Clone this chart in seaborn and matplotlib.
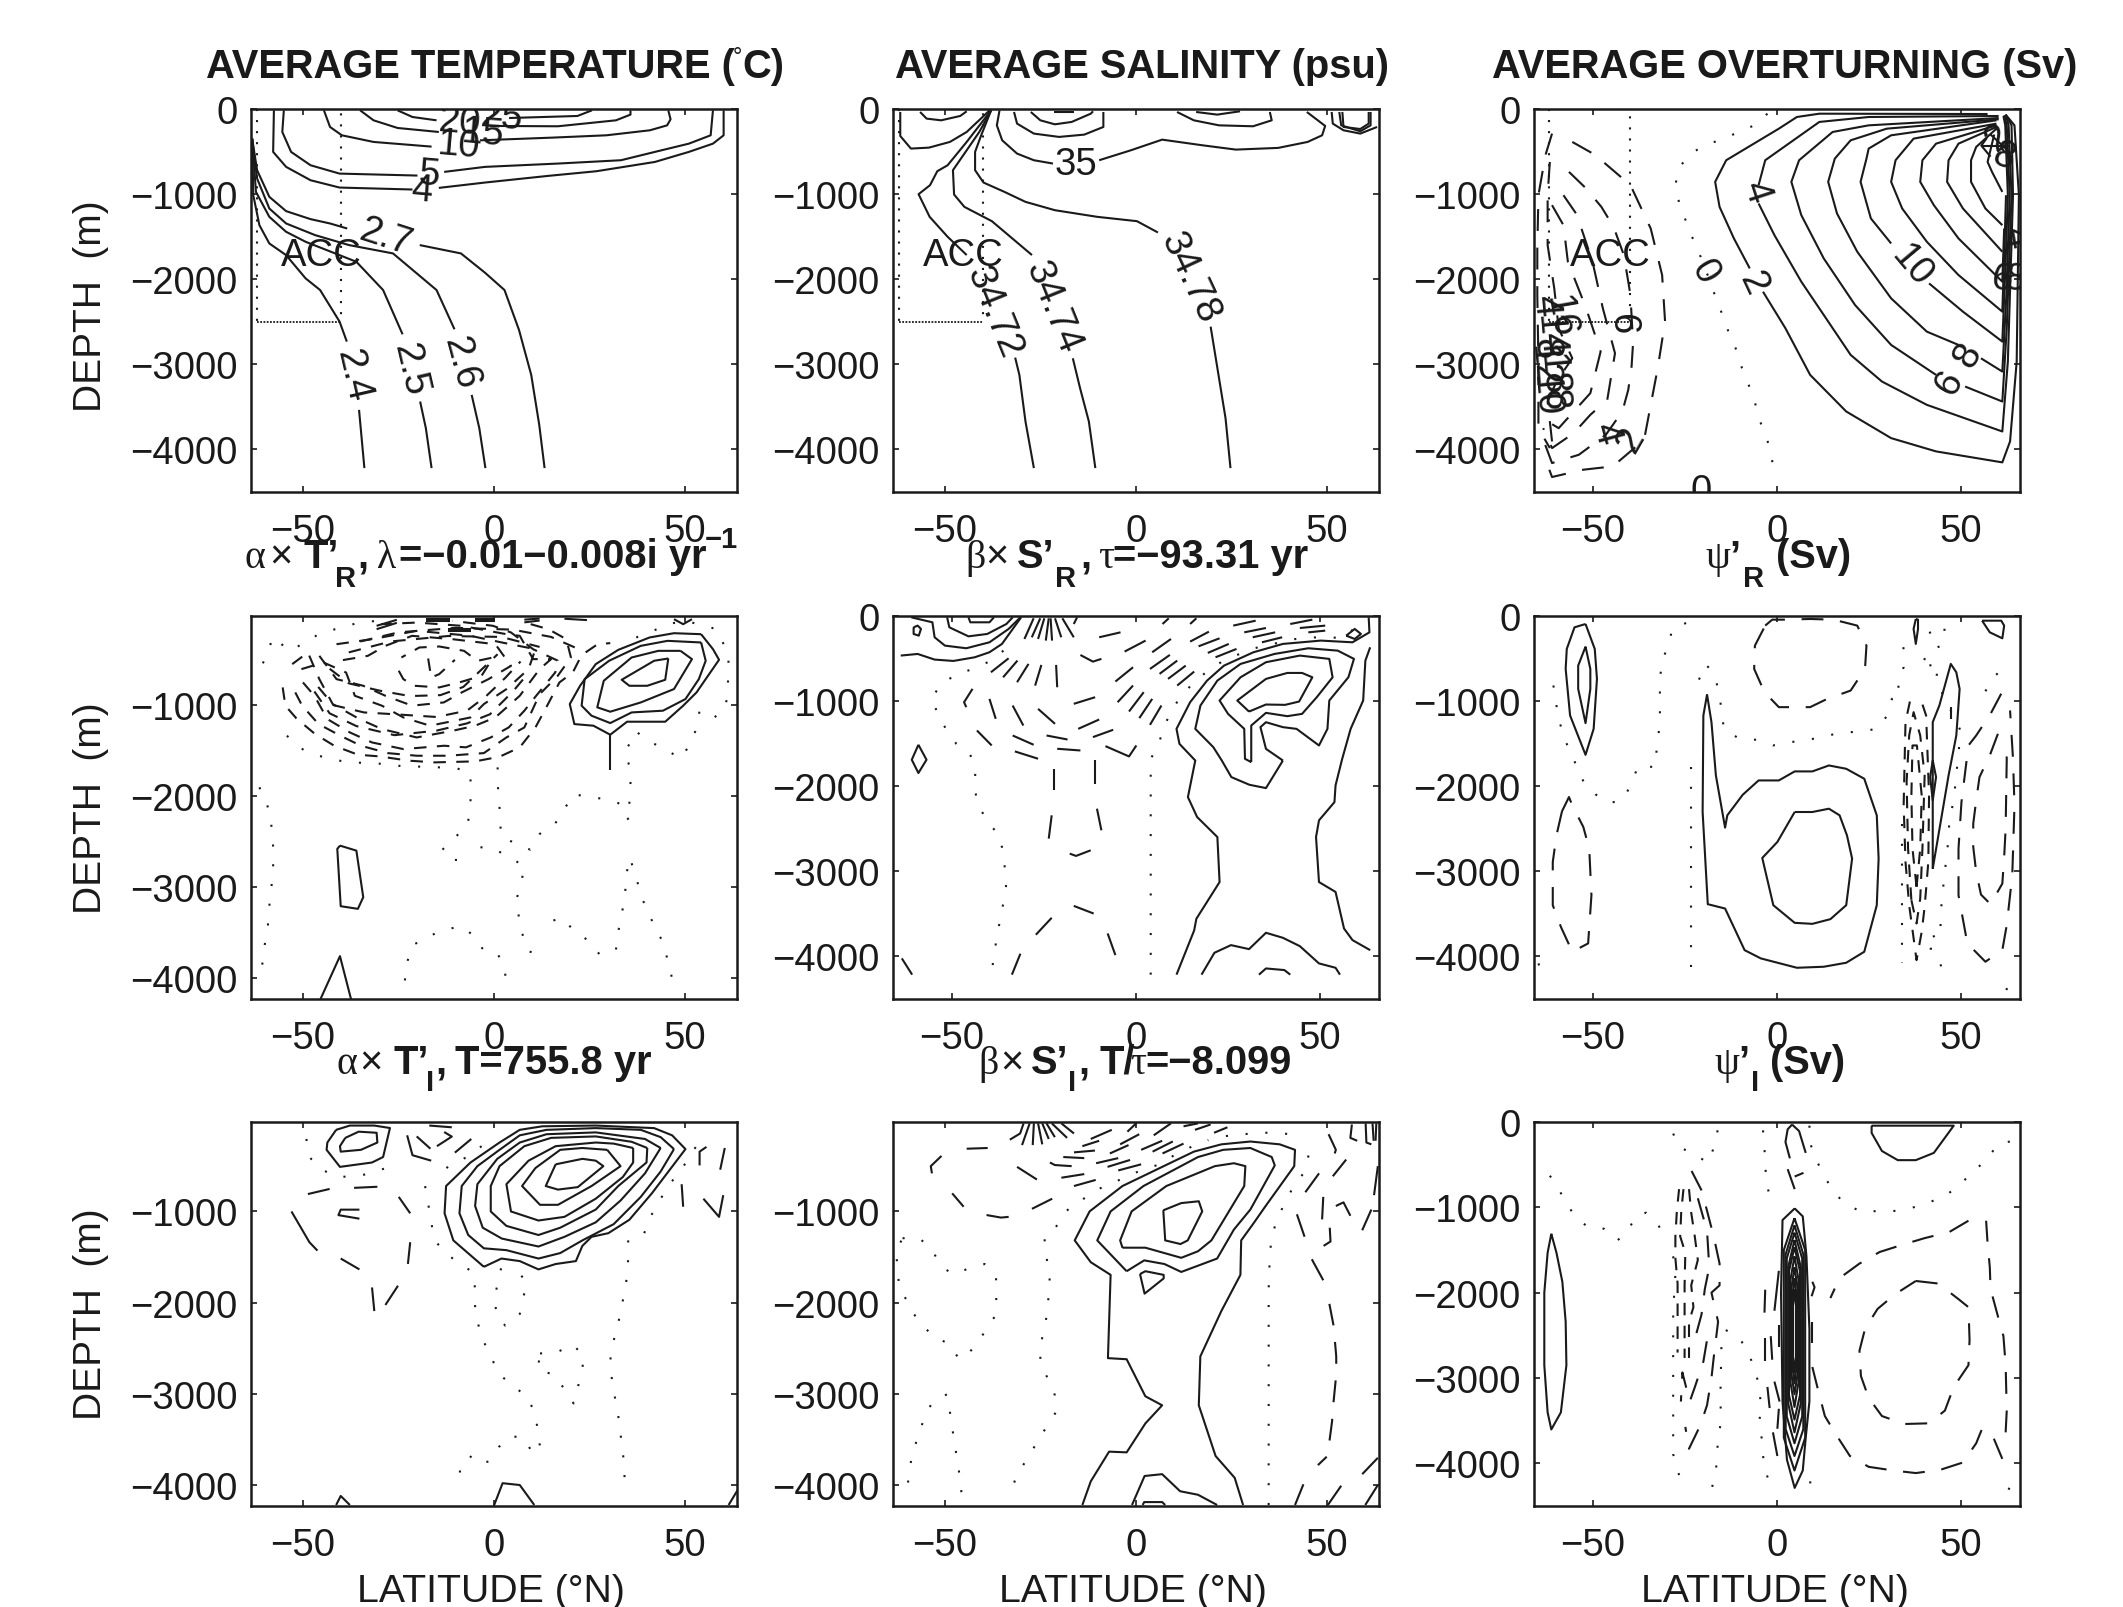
import matplotlib
matplotlib.use("Agg")
import matplotlib.pyplot as plt
import seaborn as sns
import pandas as pd

# all contours as (latitude, depth) pairs
temp_solid = [
    [(-63.3,-348),(-63,-1013),(-61.4,-1365),(-58.8,-1580),(-54.4,-1717),(-49.3,-1990),(-45.5,-2127),(-40.4,-2498),(-38.5,-2733)],
    [(-35.3,-3535),(-33.9,-4219)],
    [(-63.3,-348),(-62.3,-974),(-58.8,-1267),(-54.4,-1443),(-49.3,-1560),(-36,-1795),(-29,-2127),(-23.9,-2647)],
    [(-19.3,-3437),(-17.8,-3750),(-16.3,-4219)],
    [(-63.3,-348),(-62,-817),(-58.8,-1169),(-54.4,-1345),(-46.8,-1482),(-37.9,-1599),(-26.4,-1697),(-15,-2127),(-10.3,-2588)],
    [(-5.8,-3359),(-3.8,-3750),(-2.2,-4219)],
    [(-63.3,-348),(-62,-719),(-58.8,-1032),(-54.4,-1200),(-48,-1294),(-42.9,-1345),(-38.4,-1404)],
    [(-19.4,-1599),(-8.6,-1697),(-2.3,-1924),(2.8,-2127),(6.6,-2596),(9.8,-3124),(11.9,-3711),(13.3,-4219)],
    [(-57.6,-16),(-57.8,-504),(-54.4,-680),(-48,-837),(-40.4,-923),(-21.3,-946)],
    [(-14.4,-927),(-2.3,-864),(14.2,-786),(26.9,-731),(42.2,-622),(51.1,-504),(57.4,-407),(60.2,-309),(60.2,-16)],
    [(-55,-16),(-55.4,-270),(-53.1,-504),(-48,-661),(-40.4,-759),(-20,-782)],
    [(-13,-739),(-2.3,-680),(16.8,-641),(33.3,-602),(42.2,-504),(51.1,-407),(56.8,-309),(57.4,-16)],
    [(-44.5,-16),(-42.9,-211),(-39.8,-309),(-31.5,-387),(-16.3,-442)],
    [(-3.6,-368),(15.5,-336),(29.5,-309),(40.9,-250),(45.4,-192),(46.3,-121),(45.7,-16)],
    [(-35,-16),(-31.5,-133),(-25.2,-223),(-14.4,-270)],
    [(-1,-199),(16.8,-203),(32,-133),(35.8,-66),(35.8,-16)],
    [(-25.2,-16),(-21.3,-94),(-15,-133)],
    [(4,-106),(21.9,-82),(25.7,-16)],
]
temp_labels = [
    (-36.8,-3124,"2.4",-77),(-22,-3046,"2.5",-77),(-8.6,-2968,"2.6",-75),(-28.3,-1501,"2.7",-18),
    (-16.9,-759,"5",-5),(-18.8,-946,"4",-5),(-9.3,-426,"10",-5),(-3,-280,"15",-5),(-9,-150,"20",-5),(2,-95,"25",-5),
]

sal_solid = [
    [(-61.7,-35),(-61.7,-317),(-58.9,-465),(-54.2,-454),(-48.7,-387),(-44.3,-270),(-38.3,-16)],
    [(-56.5,-35),(-54.8,-113),(-51,-133),(-46,-82),(-44.3,-27)],
    [(-37.9,-16),(-44.3,-387),(-49.3,-661),(-52,-731),(-53.9,-895),(-56.9,-1001),(-54,-1267),(-49.3,-1501),(-44.3,-1716)],
    [(-31.6,-2921),(-30.5,-3124),(-28.9,-3671),(-26.7,-4219)],
    [(-37.9,-16),(-41,-270),(-44.3,-485),(-47.9,-719),(-47.6,-1005),(-44.9,-1150),(-37.7,-1318),(-27.2,-1716)],
    [(-16.5,-2929),(-14.6,-3280),(-12.3,-3671),(-10.6,-4219)],
    [(-37.9,-16),(-40.5,-309),(-42.1,-504),(-42.1,-719),(-39.9,-864),(-34.4,-974),(-28.9,-1091),(-21.2,-1189),(-10.1,-1267),(0.3,-1318),(5.8,-1451)],
    [(19.6,-2557),(23.5,-3632),(24.8,-4219)],
    [(-35.7,-16),(-36.4,-192),(-35,-368),(-31.1,-524),(-26.7,-602),(-21.7,-641)],
    [(-9.6,-602),(-1.3,-485),(6.9,-360),(17.4,-426),(26.2,-477),(37.3,-457),(45,-387),(48.8,-309),(49.6,-199),(44.8,-35)],
    [(-31.9,-35),(-31.1,-172),(-26.7,-289),(-20.1,-328),(-13.5,-301),(-8.5,-211),(-8.5,-35)],
    [(-27.5,-35),(-25,-133),(-21.2,-180),(-16.8,-152),(-11.8,-55),(-11.2,-27)],
    [(-21.5,-35),(-16.2,-35)],
    [(10.8,-35),(15.2,-133),(21.8,-192),(30.7,-203),(35.6,-133),(35.1,-35)],
    [(15.8,-35),(21.3,-66),(27.3,-27)],
    [(51.3,-35),(51.6,-172),(54.4,-250),(58.8,-289),(63.2,-211)],
    [(53.3,-35),(53.8,-192),(58.8,-262),(61.5,-192),(61.5,-35)],
    [(54.1,-35),(54.4,-211),(58.8,-235),(61,-172),(61,-35)],
]
sal_labels = [
    (-15.7,-641,"35",0),(-37.2,-2381,"34.72",-68),(-21.7,-2322,"34.74",-68),(14.1,-1970,"34.78",-65),
]

psi_solid = [
    [(57.2,-59),(11.5,-55),(5.4,-94),(0.5,-231),(-13.8,-602),(-16.8,-856),(-15.6,-1150),(-11.7,-1521),(-7.4,-1873)],
    [(-3.8,-2147),(2.3,-2577),(9,-3124),(18.8,-3554),(31,-3867),(43.2,-4023),(61.2,-4152),(63.3,-3906),(65.1,-2968),(65.7,-1013),(64.5,-192),(62.1,-66)],
    [(60.2,-82),(24.9,-94),(11.5,-152),(-3.2,-602),(-5,-895)],
    [(-5,-1110),(-0.7,-1482),(6.6,-2029),(12.7,-2420),(20,-2889),(28.5,-3202),(40.7,-3476),(61.2,-3789),(62.7,-2968),(64.1,-1013),(63.7,-192),(62.1,-66)],
    [(60.2,-106),(24.9,-192),(15.1,-270),(6,-602),(3.9,-856),(6.6,-1247),(12.7,-1756),(21.2,-2303),(31,-2772),(43.2,-3124)],
    [(51.1,-3261),(61.2,-3437),(62.4,-2577),(63.7,-1013),(62.9,-192),(62.1,-66)],
    [(60.2,-121),(29.8,-231),(20,-368),(15.7,-583),(13.9,-856),(16.3,-1228),(21.8,-1677),(31,-2225),(40.7,-2616),(49.3,-2772)],
    [(55.4,-2929),(61.2,-3085),(62.3,-2186),(63.2,-1013),(62.4,-192),(61.7,-74)],
    [(59.6,-133),(31,-309),(24.9,-465),(24.3,-583),(22.7,-856),(25.5,-1286),(31,-1580)],
    [(41.3,-2049),(50.5,-2381),(61.2,-2733),(62.1,-1795),(62.7,-1013),(62,-192),(61.5,-82)],
    [(59.6,-172),(37.1,-348),(32.2,-602),(31,-856),(34,-1169),(40.7,-1560),(49.3,-1951),(61.2,-2381),(61.8,-1599),(62.2,-1013)],
    [(59.6,-192),(43.2,-407),(39.5,-602),(38.9,-856),(42.6,-1130),(49.3,-1521),(61.2,-2029),(61.7,-1404)],
    [(59.6,-211),(49.3,-407),(46.6,-602),(46.2,-856),(50.5,-1169),(61.2,-1677)],
    [(59.6,-231),(54.1,-446),(52.7,-602),(52.7,-856),(56.6,-1169),(61.2,-1365)],
    [(59,-300),(57.2,-622),(58.4,-739),(61.2,-974)],
    [(55.5,-430),(63,-430)],[(57,-340),(55.5,-430),(58,-560)],[(58,-300),(63,-500)],
]
psi_dashed = [
    [(-55.6,-387),(-49.5,-536),(-39.8,-895),(-34.3,-1404),(-31.2,-1951),(-30.4,-2498),(-32.4,-3046),(-36.1,-3887),(-44.6,-4199),(-52.6,-4238),(-61.1,-4324),(-63.2,-4082)],
    [(-56.5,-739),(-52,-927),(-47.7,-1150),(-44.4,-1384),(-41.6,-1716),(-39.8,-2186),(-39.1,-2753),(-39.5,-3026),(-40.4,-3300),(-42,-3554),(-46.5,-3828),(-53.8,-4062),(-61.1,-4160),(-63.3,-3906)],
    [(-58,-1013),(-54.4,-1239),(-50.1,-1795),(-47.3,-2342),(-44,-2870),(-46.1,-3417),(-50.7,-3593),(-55.2,-3808),(-61.1,-3984),(-63.5,-3750)],
    [(-61.1,-1130),(-58,-1365),(-56.8,-1795),(-52,-2323),(-47.9,-2850),(-50.7,-3339),(-59.3,-3750),(-62.3,-3672)],
    [(-61.1,-289),(-62.9,-543),(-64.8,-1013),(-65.1,-1638),(-65.1,-2186),(-64.8,-2968),(-64.8,-3750),(-61.7,-3984)],
    [(-61.7,-622),(-62.3,-1013),(-62.3,-1599),(-60.5,-2107),(-59.3,-2577),(-55.6,-2929),(-59.9,-3202),(-62.3,-3437),(-61.1,-3906)],
]
psi_dotted = [
    [(-2.6,-55),(-6.2,-192),(-10.7,-278),(-15.1,-356),(-19.9,-434),(-23.9,-536),(-26.7,-700),(-27.6,-895),(-26.6,-1099),(-24.9,-1298),(-23.2,-1490),(-21.2,-1685),(-17.8,-2068),(-16.3,-2264),(-14.4,-2459),(-12.9,-2655),(-10.9,-2843),(-9.5,-3046),(-7.7,-3241),(-6,-3445),(-4.9,-3640),(-3,-3836),(-1.7,-4031),(-0.9,-4242)],
]
psi_labels = [
    (-5.6,-962,"4",-72),(-6.5,-2037,"2",-65),(-19.6,-1904,"0",-60),(36.5,-1834,"10",-50),(52,-2889,"8",60),(46.8,-3202,"6",60),
    (-42.2,-2518,"6",-90),(-46.5,-3808,"4",-75),(-39.8,-3887,"2",60),(-20.5,-4490,"0",0),
    (-59,-2420,"16",-80),(-62,-2650,"14",-85),(-63.5,-3000,"12",-85),(-61,-3100,"18",-85),(-63,-3350,"10",-85),(-60.5,-3400,"8",-85),
    (-63,-2300,"4",-85),(-63,-2800,"8",-85),
    (60,-330,"2",40),(61.5,-560,"8",-20),(61.3,-2000,"6",-10),(64.5,-2000,"8",-10),(64.5,-1500,"4",-80),
]

rt_solid = [
    [(54.3,-220),(47.2,-209),(40.8,-256),(32.6,-392),(26.7,-549),(22.6,-787),(19.9,-988),(21.1,-1208),(26.1,-1226),(30.5,-1325),(34.9,-1182),(44.9,-1182),(49.6,-1006),(53.1,-860),(59,-501),(57.4,-384),(54.3,-220)],
    [(30.5,-1325),(30.5,-1709)],
    [(54.3,-311),(45.5,-293),(38.5,-348),(30.2,-512),(23.8,-714),(23,-1006),(25.6,-1116),(30.5,-1197),(36.1,-1080),(44.3,-1061),(50.2,-933),(53.7,-714),(55.5,-512),(54.3,-311)],
    [(48.9,-403),(43.1,-403),(36.1,-476),(28.8,-732),(27.1,-1024),(30.5,-1072),(38.5,-970),(47.2,-823),(51.9,-494),(48.9,-403)],
    [(45.7,-487),(42,-512),(33.5,-721),(35.5,-787),(40.2,-787),(44.9,-721),(45.7,-487)],
    [(-40.3,-2544),(-36,-2599),(-34.2,-3111),(-35.6,-3239),(-40.1,-3210),(-41,-2580),(-40.3,-2544)],
    [(-45.4,-4231),(-40.3,-3759),(-37.4,-4231)],
    [(47.2,-55),(49.6,-110),(51.9,-55)],
    [(-17.8,-48),(-11.4,-48)],[(-17.8,-70),(-11.4,-70)],[(-4.9,-48),(0.4,-48)],[(-4.9,-70),(0.4,-70)],[(8,-60),(12,-48)],[(8,-90),(12,-70)],
    [(18.5,-50),(24.4,-65)],[(-30.7,-128),(-25.4,-62)],[(-30.7,-165),(-25.4,-95)],[(-12,-165),(-6,-165)],[(-12,-190),(-6,-190)],
]
rt_dashed = [
    [(-55.3,-805),(-54.6,-1006),(-51.7,-1146),(-46.8,-1318),(-41.8,-1446),(-35.6,-1545),(-30,-1563),(-22.3,-1610),(-15.5,-1629),(-4.9,-1618),(1.5,-1567),(6.8,-1464),(10.9,-1245),(13.5,-1043),(17.2,-750),(20.7,-640),(23,-450),(27.2,-330),(30.5,-318)],
    [(-52,-860),(-50.2,-1006),(-45.9,-1208),(-40,-1340),(-34.8,-1446),(-27.8,-1527),(-20.2,-1556),(-12,-1556),(-2.6,-1527),(3.3,-1355),(8,-1245),(12,-880),(16.7,-680),(20.2,-476),(19,-275),(14.3,-165),(8,-90)],
    [(-50,-750),(-47,-897),(-43.6,-1153),(-37.7,-1300),(-31.9,-1410),(-23.7,-1483),(-13,-1446),(-7.3,-1464),(-0.8,-1355),(3.9,-1245),(8,-1061),(10.4,-933),(16.1,-640),(16.7,-510),(10.3,-385),(4.5,-201),(-0.2,-128),(-10.8,-73)],
    [(-52.8,-549),(-48.7,-421),(-45.7,-714),(-42.2,-988),(-35.2,-1153),(-29.3,-1263),(-20.2,-1355),(-10.8,-1282),(-4.9,-1226),(0.4,-1135),(6.8,-897),(12,-604),(15,-494),(10.3,-494),(6.8,-238),(3.3,-220),(-8.4,-128),(-20.2,-92),(-29.5,-110)],
    [(-50.4,-604),(-44.6,-531),(-38.7,-641),(-36.4,-897),(-29.3,-1006),(-23.7,-1135),(-16.7,-1226),(-6.1,-1135),(-2.6,-988),(3.3,-824),(9.1,-604),(10.9,-385),(2.1,-311),(-6.1,-238),(-20.2,-183),(-31.9,-275),(-41.2,-330)],
    [(-45.7,-458),(-41.2,-714),(-34.2,-787),(-28.4,-897),(-21.4,-1006),(-13.1,-970),(-8.4,-860),(-1.4,-714),(4.5,-568),(0.4,-330),(-10.8,-275),(-21.4,-238),(-28.4,-348),(-33,-458),(-40.7,-513)],
    [(-24.9,-622),(-23.7,-714),(-20.8,-787),(-14.3,-805),(-9,-750),(-3.2,-677),(-0.2,-476),(-4.3,-513),(-7.8,-403),(-14.3,-355),(-19.5,-366),(-24.2,-476)],
    [(-17.2,-487),(-16.4,-696),(-14.3,-659),(-10.2,-502)],
    [(-46,-800),(-42,-1000),(-34,-1080),(-26,-1100),(-15,-1130),(-7,-1060),(-2,-900),(3,-700),(7,-520)],
    [(-43,-600),(-38,-760),(-30,-840),(-22,-900),(-14,-890),(-8,-800),(-3,-600),(1,-440)],
    [(-47,-850),(-43,-1090),(-36,-1230),(-26,-1330),(-15,-1280),(-7,-1200),(-1,-1100),(5,-850),(9,-650)],
    [(-35,-300),(-25,-200),(-10,-150),(5,-170),(15,-250),(22,-380)],
    [(-38,-420),(-27,-300),(-12,-240),(2,-250),(12,-360)],
]
rt_dotted = [
    [(-61.4,-1903),(-59.4,-2086),(-58.4,-2269),(-57.9,-2471),(-57.7,-2661),(-57.9,-2858),(-58.4,-3056),(-58.9,-3246),(-59.2,-3440),(-60,-3634),(-60.6,-3832),(-61,-4026)],
    [(-54.2,-1336),(-50.6,-1475),(-46.5,-1548),(-42.2,-1599),(-37.5,-1629),(-33.1,-1636),(-28.4,-1647),(-23.7,-1673),(-19,-1676),(-14.3,-1684),(-9.6,-1695),(-6.1,-1750),(-6.1,-1943),(-6.1,-2141),(-7,-2335),(-10.4,-2460),(-13.7,-2599),(-10.2,-2701),(-6.3,-2708)],
    [(-3.5,-2562),(0,-2573),(2.7,-2643),(8.2,-2771),(7,-2965),(5.9,-3148),(6.6,-3338),(7.6,-3532),(9.1,-3708),(12.4,-3733)],
    [(1,-1684),(1,-1867),(1.5,-2068),(1.5,-2262),(2.1,-2452),(9.5,-2588),(12,-2416),(16,-2306),(18.5,-2141),(20.9,-1976),(25,-2013),(29.3,-2031),(33.8,-2094),(35.3,-2269),(35.5,-2086),(35.8,-1892),(35.8,-1702),(34.3,-1519),(37.3,-1292)],
    [(-23.3,-4026),(-22.7,-3832),(-21.6,-3649),(-17.6,-3550),(-13.4,-3477),(-8.7,-3429),(-5.5,-3525),(-2.8,-3686),(0.9,-3726),(2.7,-3869),(3.3,-4055)],
    [(15.6,-3367),(17.9,-3338),(21.1,-3484),(25,-3594),(27.7,-3740),(30.5,-3872)],
    [(32,-3686),(32.6,-3488),(33.5,-3301),(34.3,-3111),(34.7,-2910),(35.2,-2716)],
    [(36.1,-2738),(37.5,-2928),(38.8,-3118),(40.6,-3301),(42.8,-3477),(44.7,-3649),(45.7,-3843),(46.9,-4033)],
    [(-60.5,-540),(-59.3,-440),(-57.9,-250),(-53.5,-403),(-49.4,-311),(-45.9,-220),(-41,-158),(-36.2,-103),(-30.9,-73)],
    [(37.3,-256),(41.4,-190),(45.5,-110),(50.2,-73),(58.4,-165),(61.5,-450),(61.3,-831),(60.7,-1025),(57.8,-1135),(53.9,-1061),(53.1,-1255),(51.3,-1435),(49,-1585),(45,-1490),(40.8,-1398),(37.3,-1292)],
]

rs_solid = [
    [(-63.9,-465),(-59.3,-446),(-54.7,-512),(-49.6,-528),(-43.8,-485),(-39.8,-426),(-36.4,-328),(-31.2,-16)],
    [(-61,-16),(-55.3,-74),(-54.7,-250),(-51.9,-348),(-46.1,-379),(-39.8,-309),(-34.6,-152),(-31.4,-16)],
    [(-51.3,-16),(-50.7,-133),(-45.5,-239),(-40.4,-211),(-35.2,-94),(-33.5,-16)],
    [(-45.5,-16),(-45,-74),(-39.8,-74),(-38.6,-16)],
    [(-60.4,-133),(-59.3,-113),(-58.4,-152),(-59,-231),(-60.4,-211),(-60.4,-133)],
    [(-59.1,-1513),(-56.9,-1689),(-59.1,-1845),(-60.9,-1689),(-59.1,-1513)],
    [(11,-4214),(15.8,-3694),(16.4,-3557),(22.7,-3126),(22.1,-2597),(16.6,-2362),(14.1,-2128),(16.1,-1698),(11.8,-1502),(11,-1326),(14.7,-1013),(19.3,-759),(23.9,-583),(31.9,-426),(39.9,-328),(50.2,-289),(58.8,-309),(63.4,-192),(63.2,-16)],
    [(63.6,-368),(62.3,-524),(61.7,-993),(58.3,-1326),(56,-1679),(54.2,-1990),(53.9,-2187),(49.7,-2401),(48.9,-2597),(49.7,-3126),(54.2,-3242),(56.5,-3672),(58.8,-3808),(63.6,-3926)],
    [(39.9,-1698),(35.3,-2022),(30.8,-1983),(25.9,-1893),(23.3,-1698),(21,-1541),(16.1,-1326),(17.5,-1052),(22.1,-759),(28.4,-563),(37.6,-446),(46.8,-379),(54.8,-407),(59.2,-504),(57.7,-719),(52.5,-993),(52,-1326),(49.7,-1521),(43.6,-1326),(39.9,-1306),(35.3,-1248),(33.8,-1306),(35.3,-1561),(39.9,-1698)],
    [(31.3,-1717),(29.6,-1678),(29.4,-1326),(25,-1150),(22.7,-993),(28.4,-720),(35.3,-543),(44.5,-465),(52.5,-504),(53.4,-720),(49.1,-954),(45.1,-1150),(41.1,-1177),(35.3,-1138),(31.3,-1287),(31.3,-1717)],
    [(30.7,-1123),(27.5,-993),(35.3,-739),(41.1,-669),(45.1,-669),(47.9,-720),(44.3,-1005),(40.5,-1044),(35.3,-1040),(30.7,-1123)],
    [(17.8,-4214),(21.3,-3957),(25.8,-3867),(30.7,-3914),(35.3,-3722),(39.9,-3781),(44.5,-3879),(49.7,-4082),(54.2,-4133),(55.4,-4214)],
    [(33.4,-4214),(35.3,-4141),(40.3,-4160),(41.9,-4214)],
    [(57.1,-231),(59.4,-152),(61.1,-211),(59.4,-270),(57.1,-231)],
]
# short strokes of the dashed contours, where each stroke could be read one by one
rs_strokes = [
    [(-30.3,-270),(-27.8,-27)],[(-28.3,-250),(-26,-27)],[(-26.6,-270),(-24.9,-27)],[(-24.5,-289),(-23.7,-27)],[(-22.8,-289),(-23.2,-27)],
    [(-20.3,-250),(-22,-27)],[(-16.9,-250),(-20,-27)],[(-16,-16),(-16.9,-94)],
    [(-63.6,-4023),(-60.8,-4214)],[(-39.4,-661),(-34.6,-497)],[(-36.1,-720),(-32.2,-524)],[(-32.3,-778),(-29.2,-563)],[(-27.4,-818),(-25.7,-575)],[(-21.4,-837),(-21.7,-575)],
    [(-16.9,-1032),(-11.1,-954)],[(-15.7,-1326),(-10,-1216)],[(-15.1,-458),(-11.7,-536),(-9.4,-504)],[(-10,-250),(-4.2,-192)],[(-3.1,-418),(2.6,-289)],[(4.4,-426),(9.5,-270)],
    [(7.2,-94),(8.9,-27)],[(14.7,-94),(16.4,-27)],[(-5.6,-770),(-0.8,-602)],[(3.8,-622),(9.2,-457)],[(6.4,-680),(11.2,-524)],[(8.7,-739),(13.5,-583)],[(11.2,-817),(15.8,-653)],
    [(-5,-1013),(-0.8,-817)],[(-1.9,-1122),(2.1,-895)],[(0.9,-1200),(4.4,-974)],[(3.8,-1279),(6.9,-1052)],
    [(14.7,-301),(19.8,-184)],[(17,-356),(22.7,-262)],[(19.5,-434),(25.2,-328)],[(21.6,-485),(27.3,-387)],
    [(26.4,-113),(32.5,-55)],[(29.4,-192),(35.3,-141)],[(31.7,-250),(37.8,-192)],[(34.2,-309),(39.7,-250)],
    [(41.9,-94),(47.9,-43)],[(44.5,-141),(51.4,-113)],[(46.8,-192),(51.4,-172)],
    [(-44.4,-856),(-46.7,-1013),(-46.1,-1071)],[(-39.8,-974),(-38.1,-1208)],[(-33.5,-1052),(-30.6,-1287)],[(-26.6,-1091),(-22,-1267)],
    [(-43.2,-1345),(-39.2,-1521)],[(-33.5,-1404),(-27.8,-1513)],[(-32.9,-1591),(-26.6,-1677)],[(-24.3,-1404),(-18.6,-1451)],[(-21.4,-1560),(-15.1,-1580)],
    [(-11.7,-1423),(-6.2,-1337)],[(-8.3,-1529),(-1.9,-1650),(0.1,-1521)],
    [(-23.7,-2616),(-22.9,-2342)],[(-22.4,-2050),(-22.4,-1795)],[(-18,-2792),(-16.3,-2819),(-12.3,-2753)],[(-9.4,-2518),(-10.6,-2264)],[(-11.1,-1971),(-11.1,-1697)],
    [(-33.7,-4214),(-31.4,-3968)],[(-27.2,-3745),(-22.9,-3546)],[(-16.9,-3406),(-11.5,-3496)],[(-7.7,-3730),(-5.6,-3984)],
]
rs_dotted = [
    [(-36,-407),(-39.7,-532),(-44.3,-622),(-48.8,-688),(-52.9,-798),(-55.5,-966),(-53.9,-1142),(-51.6,-1330),(-48.8,-1502),(-45,-1631),(-43.6,-1815),(-43.9,-2026),(-42.8,-2218),(-40.5,-2409),(-37.4,-2565),(-36.1,-2761),(-35.6,-2972),(-35.3,-3183),(-36.1,-3387),(-37,-3590),(-37.9,-3797),(-38.6,-4004),(-39.3,-4214)],
    [(4,-4214),(4,-1678),(6.1,-1514),(7.5,-1314),(9.5,-1123),(12,-954),(15.3,-798),(19,-661),(23.1,-543),(27.5,-457),(32.1,-379),(36.7,-336),(41.3,-282),(46.2,-254),(51.4,-250),(56,-258),(61.1,-86)],
]

rp_solid = [
    [(42.3,-2968),(42.3,-1247),(44.1,-1052),(47.2,-563),(48.7,-661),(49.6,-857),(48.7,-1404),(46.6,-1873),(42.3,-2968)],
    [(-52,-94),(-55,-133),(-57.1,-387),(-57.4,-622),(-56.2,-1169),(-52,-1631),(-49.8,-1326),(-48.9,-739),(-49.5,-387),(-52,-94)],
    [(-52,-360),(-54,-583),(-54,-856),(-52,-1259),(-50.7,-856),(-50.7,-622),(-52,-360)],
    [(-19,-923),(-20,-1169),(-20.2,-2303),(-18.8,-3386),(-14.1,-3437),(-8.8,-3926),(-4.4,-4023),(5.4,-4133),(12.7,-4121),(18.8,-4074),(23.7,-3945),(27.1,-3398),(27.6,-2850),(27.1,-2342),(23.7,-1912),(18.8,-1795),(14.1,-1756),(9.6,-1826),(4.8,-1826),(0.5,-1932),(-5,-1932),(-9.3,-2100),(-13.5,-2342),(-14.1,-2487),(-16.6,-1873),(-17.8,-1247),(-19,-923)],
    [(4.8,-2303),(9.6,-2303),(14.1,-2264),(17,-2342),(19,-2577),(20.4,-2850),(18.8,-3398),(14.5,-3562),(9.6,-3617),(4.8,-3605),(-1,-3398),(-4,-2843),(0.1,-2655),(4.8,-2303)],
    [(55.7,-55),(57.8,-192),(61.2,-262),(61.7,-113),(60.9,-55),(55.7,-55)],
    [(37.7,-35),(37.1,-152),(37.7,-328),(38.3,-152),(38.3,-43),(37.7,-35)],
    [(47.2,-1070),(47.2,-1205)],
    [(42.3,-1697),(43.2,-1892),(42.3,-2166),(41.6,-1892),(42.3,-1697)],
]
rp_dashed = [
    [(-3.2,-113),(-1.3,-43),(2.3,-43),(9,-35),(15.4,-43),(21.8,-113),(24.3,-348),(23.9,-622),(20,-876),(13.3,-981),(9,-1071),(0.5,-1071),(-3.4,-895),(-6.2,-622),(-6,-348),(-3.2,-113)],
    [(-58.4,-2295),(-56.5,-2127),(-55.6,-2225),(-52.6,-2479),(-51,-2733),(-50.4,-3281),(-51.3,-3847),(-55.6,-3945),(-58.7,-3652),(-60.9,-3398),(-60.9,-2890),(-59.9,-2577),(-58.4,-2295)],
    [(60.9,-913),(58,-1150),(54.1,-1404),(52,-1521),(50.1,-2186),(49.3,-2733),(49.3,-3281),(51.7,-3847),(56.6,-4062),(61.2,-3926),(62.4,-3632),(63.9,-3046),(64.5,-2225),(64.1,-1677),(63.3,-1110)],
    [(60,-1384),(57.8,-1638),(55,-1892),(54.1,-2166),(53.3,-2440),(53.3,-2714),(54.1,-3007),(55.4,-3273),(58,-3386),(61.2,-3144),(61.7,-2831),(62.1,-2499),(62.4,-1677),(62.1,-1482)],
]
rp_fine = [
    [(36.1,-1005),(34.9,-1247),(34.4,-2225),(34.9,-2889),(35.9,-3398),(37.9,-4043),(39.3,-3711),(40.1,-3417),(41.1,-2889),(41.3,-2108),(40.5,-1169),(38.7,-935)],
    [(36.5,-3339),(37.9,-3613),(38.9,-3320),(39.5,-2733),(40.1,-1873),(38.9,-1404),(37.1,-1130),(35.9,-1404),(35.2,-1951),(35.6,-2733),(36.5,-3339)],
    [(37.9,-3183),(38.9,-2733),(39.3,-2108),(38,-1521),(36.8,-1521),(36.5,-2108),(36.8,-2733),(37.9,-3183)],
]
rp_dotted = [
    [(-24.7,-82),(-28.4,-152),(-29.6,-348),(-31.2,-532),(-31.8,-739),(-31.8,-946),(-31.8,-1149),(-32.1,-1357),(-32.7,-1568),(-33,-1775),(-37.7,-1763),(-39.5,-1959),(-41.6,-2147),(-45.2,-2198),(-49.3,-2096),(-52.5,-1951),(-54.5,-1756),(-56.5,-1561),(-57.8,-1435),(-59.1,-1236),(-60,-1029),(-60.7,-825),(-61.4,-622)],
    [(-23.4,-1775),(-23.4,-4297)],
    [(-21.2,-747),(-19.3,-563),(-16.9,-712),(-15.6,-915),(-15.1,-1118),(-14.4,-1329),(-10.5,-1435),(-5.6,-1455),(-1.1,-1521),(3.5,-1482),(8,-1462),(12.7,-1412),(17.6,-1373),(22.4,-1357),(27.3,-1326),(29.8,-1177),(31.2,-974),(33.2,-974),(32.9,-770),(34.4,-602),(34.4,-407),(34,-200)],
    [(41.3,-200),(45.6,-120),(45,-340),(41,-420),(39,-610),(43.8,-555),(43.2,-760),(49.9,-1350),(48,-2166),(46.8,-2400),(46.6,-2610),(45,-3240),(44.6,-3430),(44.4,-3660),(41.7,-3690),(44,-3880),(41.7,-3910),(44.4,-4090),(45.6,-4285)],
    [(56.6,-884),(59,-708),(62.4,-590)],
    [(34,-2441),(34,-4082)],
    [(-64.8,-4082),(-63.2,-4285)],[(62.3,-4395),(63.9,-4191)],
]

it_solid = [
    [(-2.6,-1608),(2,-1517),(6.8,-1545),(11.7,-1636),(16.2,-1577),(21.5,-1545),(23.2,-1378),(25.6,-1279),(30,-1239),(35.5,-1092),(41.4,-802),(50.2,-317),(46.7,-166),(42,-87),(26.7,-59),(12.7,-67),(6.8,-106),(1.5,-245),(-6.1,-464),(-12.5,-722),(-12.9,-1021),(-10.6,-1318),(-2.6,-1608)],
    [(47.2,-317),(43.7,-186),(38.5,-106),(26.7,-87),(13.8,-106),(6.8,-166),(1.5,-325),(-4.3,-504),(-8.4,-722),(-9,-1021),(-6.7,-1259),(-2.6,-1405),(3.3,-1425),(11.7,-1517),(17.4,-1457),(23.2,-1318),(31.4,-1140),(38.5,-841),(43.7,-563),(47.2,-317)],
    [(43.7,-305),(39.6,-206),(26.7,-134),(13.8,-154),(6.8,-245),(0.9,-424),(-4.3,-702),(-4.9,-940),(-2.9,-1179),(2.1,-1298),(11.7,-1385),(18.5,-1279),(26.7,-1120),(33.2,-881),(39.6,-583),(43.7,-305)],
    [(40.2,-305),(36.1,-237),(26.7,-178),(15,-194),(8,-285),(1.5,-504),(-0.8,-722),(-0.8,-1001),(3.3,-1159),(11.7,-1259),(17.4,-1179),(26.7,-980),(32.6,-722),(40,-464),(40.2,-305)],
    [(36.5,-305),(31.4,-257),(26.7,-245),(16.2,-285),(9.1,-444),(3.3,-702),(4.5,-1001),(11.7,-1100),(18.5,-1060),(26.7,-861),(33.8,-623),(36.5,-464),(36.5,-305)],
    [(29.7,-325),(23.2,-305),(17.4,-325),(10.9,-525),(7.4,-722),(12.1,-928),(16.8,-928),(25.6,-722),(33.2,-504),(29.7,-325)],
    [(16.2,-484),(23.2,-424),(26.7,-444),(28.7,-504),(22,-734),(16.8,-761),(13.6,-722),(16.2,-484)],
    [(-41.3,-106),(-43.6,-245),(-43.8,-325),(-40.3,-512),(-31.9,-464),(-29,-404),(-27.2,-86),(-31.3,-59),(-37.7,-59),(-41.3,-106)],
    [(-38.9,-194),(-40.3,-285),(-40.1,-345),(-34.8,-325),(-30.5,-245),(-30.7,-138),(-35.4,-126),(-38.9,-194)],
    [(0.1,-4219),(2.3,-3980),(6.8,-4000),(10.6,-4219)],
    [(-41.3,-4219),(-40.1,-4120),(-37.7,-4219)],
    [(61.5,-4219),(63.8,-4060)],
]
it_strokes = [
    [(-22.7,-166),(-21.3,-384),(-16.4,-444)],[(-20.2,-178),(-16.6,-313)],[(-14.9,-285),(-11,-180),(-13,-130)],[(-16.9,-59),(-11,-78)],[(-10.2,-356),(-5.9,-206)],
    [(-48.7,-810),(-43,-754)],[(-36.6,-742),(-30.5,-730)],[(-53,-1001),(-48.3,-1338),(-46.2,-1430)],[(-40.1,-1517),(-35.2,-1636)],[(-31.9,-1834),(-31.3,-2093)],[(-28.4,-2026),(-25.1,-1815)],
    [(-22.5,-1576),(-21.9,-1338)],[(-21.9,-1021),(-24.9,-841)],[(-35.2,-981),(-40.1,-981),(-40.7,-1041),(-35.2,-1080)],
    [(55.7,-293),(53.9,-345),(53.9,-496)],[(60.5,-305),(59.3,-543)],[(49.2,-702),(49.6,-949)],[(54.9,-861),(59,-1060),(60.1,-822)],
]
it_dotted = [
    [(-49.1,-206),(-48.3,-404),(-45.4,-535),(-41,-623),(-36.6,-615),(-31.9,-583),(-27.6,-512)],
    [(-18,-723),(-17.2,-914),(-16.4,-1108),(-15.7,-1298),(-12.9,-1457),(-9,-1564),(-5.3,-1675),(-4.9,-1862),(-4.9,-2060),(-4,-2251),(-2.6,-2430),(-0.6,-2609),(1.5,-2788),(4.8,-2907),(8.6,-3026),(10.6,-3193),(11.5,-3384),(12.1,-3583),(10.3,-3662),(8,-3491),(4.8,-3463),(1.3,-3583),(-1.4,-3742),(-4,-3770),(-7.3,-3642)],
    [(-8.8,-3841),(-10.1,-4032)],
    [(35.2,-1318),(35.2,-1517),(34.9,-1715),(34.1,-1906),(33.3,-2093),(32.2,-2291),(31,-2478),(30.4,-2668),(31,-2859),(31.8,-3058),(32.6,-3245),(33.2,-3444),(33.8,-3635),(34.2,-3834),(34.3,-4028)],
    [(1.9,-1624),(0.1,-1962),(0.9,-2153),(3,-2252),(6.8,-2125),(7.6,-1974),(8.6,-1775),(6.2,-1656)],
    [(12.1,-2558),(16.8,-2538),(20.9,-2462),(23.8,-2610),(22.6,-2800),(21.8,-2987),(20.9,-3106),(18.5,-2947),(15.6,-2788),(11.5,-2737),(12.1,-2558)],
    [(39.4,-1239),(41,-1060),(43.4,-889),(45.5,-722),(48.8,-571),(51.1,-404),(53.7,-245)],
    [(-3.2,-285),(-7,-404),(-11.1,-484),(-14.9,-603)],
]

is_solid = [
    [(-14,-4219),(-11.8,-3960),(-7,-3634),(-2.4,-3642),(2.5,-3325),(6.9,-3126),(2.5,-3027),(-2.4,-2621),(-7.3,-2609),(-6.6,-1696),(-11.8,-1557),(-16,-1318),(-12.1,-1000),(-3.5,-722),(15.2,-345),(22.4,-265),(30,-234),(37.7,-265),(41.7,-325),(41.5,-504),(34,-941),(30.7,-1139),(27.6,-1318),(27.4,-1696),(22.4,-2093),(16.9,-2590),(16.5,-3126),(20.9,-3682),(25.9,-3921),(28.1,-4219)],
    [(-2.4,-1656),(-10.1,-1318),(-6.6,-1000),(2,-722),(16.3,-404),(22.9,-325),(30,-305),(35.6,-404),(36.4,-496),(30,-980),(25.7,-1199),(21.3,-1517),(11.9,-1664),(7.5,-1577),(2.2,-1537),(-2.4,-1656)],
    [(-3.5,-1398),(-4.1,-1318),(-1.1,-1000),(8,-722),(20.7,-504),(25.7,-472),(28.7,-504),(28.4,-722),(19.8,-1318),(16.3,-1437),(11.9,-1509),(2.5,-1398),(-3.5,-1398)],
    [(7.2,-988),(11.9,-909),(16.5,-889),(17.4,-1000),(13.6,-1318),(11.7,-1358),(7.7,-1318),(7.2,-988)],
    [(1.1,-1687),(2.5,-1656),(7.3,-1696),(7.3,-1735),(2.3,-1902),(1.1,-1687)],
    [(-1,-4219),(2.3,-3901),(6.9,-3881),(11.6,-4068),(16.3,-4107),(21.3,-4219)],
    [(1.8,-4219),(2.2,-4187),(6.9,-4187),(7.7,-4219)],
]
is_strokes = [
    [(-33,-214),(-30.3,-146),(-29.4,-35)],[(-29.8,-273),(-27.8,-35)],[(-27,-273),(-26.7,-35)],[(-24.5,-265),(-25.6,-35)],[(-22.8,-206),(-24.5,-35)],[(-21.2,-186),(-23.4,-35)],[(-18,-194),(-22,-35)],[(-16.2,-146),(-19.5,-35)],
    [(-44.3,-313),(-38.8,-305)],[(-50.9,-392),(-53.7,-504),(-53.4,-583)],[(-31.1,-512),(-25.9,-651)],[(-48.1,-802),(-45.1,-949)],[(-39.1,-1040),(-35.3,-1068),(-33.3,-1060)],[(-27.2,-972),(-21.9,-861)],
    [(-11.8,-206),(-6.3,-106)],[(-4.1,-265),(0.9,-154)],[(4.7,-166),(9.2,-35)],[(-2.2,-126),(0.1,-35)],[(12.5,-67),(16.3,-35)],[(15.5,-106),(19.6,-47)],[(20.5,-138),(24,-78)],
    [(-14,-285),(-9.6,-226)],[(-16.2,-353),(-10.7,-333)],[(-6.8,-365),(-1.9,-273)],[(-19,-404),(-13.5,-416)],[(-10.4,-472),(-4.6,-416)],[(-22.5,-464),(-21.2,-492),(-16.8,-504)],
    [(-7.4,-512),(-1.5,-436)],[(-4.6,-551),(1.4,-484)],[(-19.5,-631),(-13.5,-591)],[(-16.2,-722),(-10.5,-655)],[(1.4,-325),(6.9,-226)],[(4.4,-345),(9.7,-233)],[(7,-365),(12.5,-257)],
    [(50.5,-154),(52.4,-325),(52.1,-365)],[(56.6,-47),(56.2,-194),(58,-226)],[(60.2,-35),(60.4,-245),(61.7,-265)],[(62,-35),(62.3,-226)],[(63,-35),(62.8,-226)],
    [(55.1,-432),(51.6,-615)],[(48,-583),(44.4,-790)],[(63.4,-504),(62.4,-822)],[(49.1,-841),(48.8,-1088)],[(52.4,-941),(54.4,-901),(56.2,-1048)],[(50.8,-1179),(51,-1330),(49.2,-1378)],[(61.7,-980),(59.3,-1207)],
    [(42.2,-1032),(44.2,-1278)],[(46.1,-1525),(49.1,-1755)],[(63.4,-3702),(59.3,-3881)],[(63.4,-4000),(60.1,-4219)],[(53.8,-4008),(50.3,-4219)],[(43.9,-3992),(41.7,-4219)],
]
is_dashed = [
    [(50.7,-2014),(51.8,-2252),(52.5,-2590),(52.5,-2788),(51.8,-3086),(51.4,-3305),(50.2,-3682),(47.7,-3782)],
]
is_dotted = [
    [(34.8,-4219),(34.8,-1855),(35.1,-1477),(35.6,-1278),(37,-1088),(39,-909),(41.1,-742),(43.9,-583),(46.1,-265)],
    [(23.6,-174),(28.2,-154),(32.9,-138),(37.5,-138),(42.1,-166)],
    [(-20.9,-1170),(-18.4,-1000),(-14.6,-889),(-10.7,-774),(-6.6,-694),(-2.4,-623),(2,-535),(6.4,-484),(10.3,-377),(14.7,-289),(19,-218)],
    [(-23.9,-1306),(-23.4,-1505),(-22.5,-1696),(-22.8,-1886),(-23.1,-2081),(-23.9,-2280),(-25,-2470),(-25,-2649),(-23,-2840),(-21.2,-3015),(-20.8,-3193),(-23.4,-3364),(-25.8,-3523),(-28.1,-3694),(-30.8,-3861),(-32.5,-4040)],
    [(-61.1,-1294),(-56.7,-1294),(-53.4,-1418),(-51.2,-1589),(-48.1,-1688),(-43.8,-1628),(-39.6,-1577),(-36.6,-1724),(-36.6,-1914),(-36.4,-2113),(-38.8,-2280),(-41.6,-2438),(-44.5,-2598),(-46.3,-2617),(-49,-2450),(-53.1,-2371),(-56,-2240),(-58.9,-2085),(-59.8,-1994),(-62,-1823),(-62.8,-1437),(-61.1,-1294)],
    [(-49.5,-3006),(-53.4,-3098),(-55.5,-3273),(-56.9,-3456),(-58.4,-3634),(-59.3,-3833),(-59.8,-4024)],
    [(-48.7,-3197),(-48,-3396),(-47.3,-3590),(-46.5,-3786),(-46,-3972),(-45.4,-4167)],
]

ip_solid = [
    [(-61.3,-1310),(-59.9,-1532),(-58.3,-1872),(-57.4,-2340),(-57.2,-2850),(-58.7,-3403),(-61.3,-3603),(-62.3,-3403),(-63.2,-2850),(-63.2,-2000),(-62.3,-1532),(-61.3,-1310)],
    [(25.7,-43),(48,-43),(42.6,-362),(37.7,-447),(32.8,-447),(28.5,-340),(25.7,-128),(25.7,-43)],
    [(4.8,-1013),(7,-1106),(8,-1574),(8.8,-2425),(8.8,-3276),(7.8,-3701),(7,-4084),(4.8,-4288),(2.7,-3957),(1.5,-3276),(1.1,-2000),(1.5,-1149),(4.8,-1013)],
    [(4.75,-1127),(7.65,-1500),(7.65,-3700),(4.75,-4084),(1.85,-3700),(1.85,-1500),(4.75,-1127)],
    [(4.75,-1212),(7.15,-1550),(7.15,-3600),(4.75,-3914),(2.35,-3600),(2.35,-1550),(4.75,-1212)],
    [(4.75,-1297),(6.85,-1600),(6.85,-3450),(4.75,-3765),(2.65,-3450),(2.65,-1600),(4.75,-1297)],
    [(4.75,-1382),(6.45,-1700),(6.45,-3300),(4.75,-3637),(3.05,-3300),(3.05,-1700),(4.75,-1382)],
    [(4.75,-1467),(6.25,-1750),(6.25,-3200),(4.75,-3488),(3.25,-3200),(3.25,-1750),(4.75,-1467)],
    [(4.75,-1574),(5.85,-1850),(5.85,-3050),(4.75,-3339),(3.65,-3050),(3.65,-1850),(4.75,-1574)],
    [(4.75,-1702),(5.6,-1950),(5.6,-2950),(4.75,-3190),(3.9,-2950),(3.9,-1950),(4.75,-1702)],
    [(4.75,-1829),(5.35,-2050),(5.35,-2850),(4.75,-3063),(4.15,-2850),(4.15,-2050),(4.75,-1829)],
    [(4.75,-1957),(5.15,-2150),(5.15,-2750),(4.75,-2935),(4.35,-2750),(4.35,-2150),(4.75,-1957)],
]
ip_dashed = [
    [(9.6,-2871),(11.2,-3148),(13,-3446),(16.1,-3667),(19.8,-3914),(24.9,-4041),(31.6,-4084),(37.7,-4114),(44.4,-4075),(50.5,-3990),(54.1,-3765),(56.3,-3531)],
    [(61.2,-3948),(58.8,-3701)],
    [(62.1,-3637),(62.4,-3382),(62.1,-2850),(61.5,-2510),(60,-2276),(58,-1957),(57.8,-1702),(57.2,-1425),(56.8,-1157)],
    [(52,-1157),(46.8,-1289),(40.1,-1361),(34.4,-1434),(27.9,-1523),(22.4,-1659),(17,-1829),(14.5,-2063)],
    [(37.7,-1863),(43.8,-1893),(49.3,-2076),(52,-2170),(52.3,-2553),(52,-2850),(48,-3105),(45.6,-3382),(41.3,-3531),(34.6,-3539),(28.5,-3446),(24.9,-3233),(22.8,-2978),(22.4,-2680),(23.9,-2425),(27.3,-2191),(32,-2021),(37.7,-1863)],
    [(-23.2,-574),(-20.4,-809),(-17.2,-1340),(-15.6,-1659),(-15.6,-1914),(-17.8,-2000),(-16,-2340),(-17.2,-2765),(-17.8,-2999),(-19,-3318),(-20.8,-3552),(-23.9,-3829),(-24.9,-3573)],
    [(-21.5,-894),(-19,-1276),(-18.4,-1702),(-19.6,-1957),(-20.5,-2255),(-22.1,-2510),(-19,-2553),(-20,-2808),(-22.3,-3105),(-23.7,-3276),(-25.7,-2935),(-26.1,-3276)],
]
ip_fine = [
    [(-23.9,-787),(-23.3,-1063),(-22.4,-1319),(-21.5,-1617),(-23.3,-1914),(-22.7,-2170),(-23.9,-2340),(-23.9,-2765)],
    [(-26.6,-787),(-27.2,-1042),(-27.6,-1340),(-27.6,-1595),(-27,-1893),(-27,-2148),(-27,-2446),(-27,-2702)],
    [(-25.4,-787),(-26,-1042),(-26.3,-1340),(-24.9,-1532),(-25.1,-1914),(-25.1,-2425),(-25.1,-2765)],
]
ip_strokes = [
    [(4.1,-30),(6,-106),(7.8,-362)],[(7.2,-596),(4.8,-639)],[(3.5,-426),(2.3,-234),(2.9,-85),(4.1,-30)],[(2.9,-553),(4.8,-787)],
    [(-3.2,-1965),(-3.4,-2234)],[(0.5,-1744),(-0.7,-2212)],[(-3.2,-2531),(-3.2,-2799)],[(-1.7,-2510),(-1.3,-2786)],[(0.5,-2382),(0.5,-2638)],
    [(-0.7,-3042),(0.7,-3276)],[(-2.6,-3105),(-2,-3352)],[(0.5,-3361),(0.1,-3595)],[(-1.1,-3637),(0.1,-3914)],
    [(9.6,-1872),(10.2,-1936),(9.4,-2042)],[(9.4,-2340),(9.4,-2595)],
]
ip_dotted = [
    [(-61.7,-630),(-59.9,-736),(-57.7,-915),(-55.2,-1085),(-51.6,-1225),(-47,-1251),(-43.3,-1387),(-40.5,-1276),(-38.3,-1098),(-35.6,-1063),(-32.2,-1212),(-29.8,-1387)],
    [(-28.2,-1574),(-27.6,-1787),(-28.2,-2212),(-28.2,-2850),(-28.2,-3892),(-27,-4084),(-25.4,-4288)],
    [(-13.9,-2438),(-10.2,-2531),(-7.8,-2702),(-6.1,-2893),(-4.8,-3097),(-4.4,-3318),(-4.8,-3531),(-4.1,-3722),(-3.8,-3914),(-2.9,-4118),(-1.3,-4326)],
    [(-15.1,-2638),(-15.4,-3276),(-15.1,-3488),(-16,-3701),(-16.6,-4105),(-17.8,-4309)],
    [(-28.2,-136),(-26.6,-289),(-22.1,-391),(-18.7,-476),(-17,-281),(-16,-72)],
    [(-3.8,-98),(-3.4,-306),(-3.2,-510),(-2.8,-723),(-1.6,-936)],
    [(8.8,-43),(9,-247),(10.5,-434),(12.9,-630),(15.1,-809),(18.5,-957),(23,-1055),(27.6,-1042),(32.4,-1042),(37.1,-1000),(41.7,-936),(46.2,-851),(50.1,-715),(53.5,-574),(57.1,-434),(59.9,-264),(63.9,-221)],
    [(62.9,-4309),(64.8,-4105)],[(9,-4211),(9.4,-4424)],
]

box_lat = [-62, -40, -40]
box_depth = [0, 0, -2500]
box_left_lat = [-62, -62]
box_left_depth = [0, -2500]
box_base_lat = [-62, -40]
box_base_depth = [-2500, -2500]

W, H = 2123, 1608
TXT = 27.5
DASH = (0, (10.5, 8))
FINE = (0, (6, 5))
DOT = (0, (1, 8.5))


def draw(ax, lines, style="-", lw=1.5):
    # every polyline is one unit in long format
    rows = [(i, p[0], p[1]) for i, line in enumerate(lines) for p in line]
    df = pd.DataFrame(rows, columns=["line", "lat", "depth"])
    sns.lineplot(data=df, x="lat", y="depth", units="line", estimator=None, sort=False,
                 color="k", linewidth=lw, linestyle=style, legend=False, ax=ax)
    ax.set_xlabel("")
    ax.set_ylabel("")


def panel(col, row, xlim, ylim, yticks):
    lefts = [251, 893, 1534]
    tops = [110, 617, 1123]
    hts = [383, 383, 384]
    ax = fig.add_axes([lefts[col] / W, 1 - (tops[row] + hts[row]) / H, 486 / W, hts[row] / H])
    ax.set_xlim(*xlim)
    ax.set_ylim(*ylim)
    ax.set_xticks([-50, 0, 50])
    ax.set_yticks(yticks)
    ax.set_xticklabels(["\u221250", "0", "50"])
    ax.set_yticklabels(["\u2212%d" % -t if t else "0" for t in yticks])
    ax.tick_params(direction="in", top=True, right=True, length=4, width=1.2, labelsize=TXT, color="k")
    ax.tick_params(axis="x", pad=15)
    ax.tick_params(axis="y", pad=9.5)
    for s in ax.spines.values():
        s.set_visible(True)
        s.set_linewidth(1.8)
    ax.patch.set_alpha(0)
    return ax


def acc_box(ax):
    draw(ax, [list(zip(box_lat, box_depth))], (0, (1, 4.3)))
    draw(ax, [list(zip(box_left_lat, box_left_depth))], (0, (1, 4.3)))
    draw(ax, [list(zip(box_base_lat, box_base_depth))], (0, (1, 0.8)), lw=1.3)
    ax.text(-45.3, -1720, "ACC", fontsize=TXT, ha="center", va="center")


def clabels(ax, labels):
    for lat, depth, s, rot in labels:
        ax.text(lat, depth, s, fontsize=TXT, rotation=rot, ha="center", va="center",
                rotation_mode="anchor", clip_on=True)


def put(x, y, s, bold=True, serif=False, size=28.7):
    fig.text(x / W, 1 - y / H, s, fontsize=size, fontweight="bold" if bold else "normal",
             family="Liberation Serif" if serif else "Liberation Sans", ha="left", va="baseline")


sns.set_theme(style="ticks", rc={"text.color": "k", "axes.labelcolor": "k", "axes.edgecolor": "k",
                                 "xtick.color": "k", "ytick.color": "k"})
plt.rcParams["font.family"] = ["Liberation Sans", "DejaVu Sans"]
plt.rcParams["lines.solid_capstyle"] = "butt"
plt.rcParams["lines.dash_capstyle"] = "butt"

fig = plt.figure(figsize=(W / 100, H / 100), dpi=100, facecolor="white")

full = [0, -1000, -2000, -3000, -4000]
part = [-1000, -2000, -3000, -4000]
lim_a = (-63.6, 63.7)
lim_b = (-66, 66)

ax = panel(0, 0, lim_a, (-4500, 0), full)
draw(ax, temp_solid)
acc_box(ax)
clabels(ax, temp_labels)

ax = panel(1, 0, lim_a, (-4500, 0), full)
draw(ax, sal_solid)
acc_box(ax)
clabels(ax, sal_labels)

ax = panel(2, 0, lim_b, (-4500, 0), full)
draw(ax, psi_solid)
draw(ax, psi_dashed, DASH)
draw(ax, psi_dotted, DOT)
acc_box(ax)
clabels(ax, psi_labels)

ax = panel(0, 1, lim_a, (-4230, -20), part)
draw(ax, rt_solid)
draw(ax, rt_dashed, FINE)
draw(ax, rt_dotted, DOT)

ax = panel(1, 1, lim_b, (-4500, 0), full)
draw(ax, rs_solid)
draw(ax, rs_strokes)
draw(ax, rs_dotted, DOT)

ax = panel(2, 1, lim_b, (-4500, 0), full)
draw(ax, rp_solid)
draw(ax, rp_dashed, DASH)
draw(ax, rp_fine, FINE)
draw(ax, rp_dotted, DOT)

ax = panel(0, 2, lim_a, (-4230, -20), part)
draw(ax, it_solid)
draw(ax, it_strokes)
draw(ax, it_dotted, DOT)

ax = panel(1, 2, lim_a, (-4230, -20), part)
draw(ax, is_solid)
draw(ax, is_strokes)
draw(ax, is_dashed, DASH)
draw(ax, is_dotted, DOT)

ax = panel(2, 2, lim_b, (-4500, 0), full)
draw(ax, ip_solid)
draw(ax, ip_dashed, DASH)
draw(ax, ip_fine, FINE)
draw(ax, ip_strokes)
draw(ax, ip_dotted, DOT)

# titles, pieced together because each one mixes bold text, greek and subscripts
SUB = 21
put(206, 78, "AVERAGE TEMPERATURE (")
put(733, 64, "\u00b0", bold=False, size=17)
put(742, 78, "C)")
put(895, 78, "AVERAGE SALINITY (psu)")
put(1492, 78, "AVERAGE OVERTURNING (Sv)")

put(245, 568, "\u03b1", bold=False, serif=True)
put(269, 568, "\u00d7", bold=False)
put(303, 568, "T\u2019")
put(335, 587, "R", size=SUB)
put(357, 568, ",")
put(377, 568, "\u03bb", bold=False, serif=True)
put(399, 568, "=\u22120.01\u22120.008i yr")
put(705, 548, "\u22121", size=SUB)

put(965, 568, "\u03b2", bold=False, serif=True)
put(985, 568, "\u00d7", bold=False)
put(1017, 568, "S\u2019")
put(1055, 587, "R", size=SUB)
put(1080, 568, ",")
put(1098, 568, "\u03c4", bold=False, serif=True)
put(1113, 568, "=\u221293.31 yr")

put(1705, 568, "\u03c8", bold=False, serif=True)
put(1729, 568, "\u2019")
put(1743, 587, "R", size=SUB)
put(1776, 568, "(Sv)")

put(337, 1074, "\u03b1", bold=False, serif=True)
put(359, 1074, "\u00d7", bold=False)
put(394, 1074, "T\u2019")
put(426, 1091, "I", size=SUB)
put(435, 1074, ",")
put(455, 1074, "T=755.8 yr")

put(978, 1074, "\u03b2", bold=False, serif=True)
put(1000, 1074, "\u00d7", bold=False)
put(1031, 1074, "S\u2019")
put(1068, 1091, "I", size=SUB)
put(1078, 1074, ",")
put(1099, 1074, "T/")
put(1130, 1074, "\u03c4", bold=False, serif=True)
put(1145, 1074, "=\u22128.099")

put(1714, 1074, "\u03c8", bold=False, serif=True)
put(1738, 1074, "\u2019")
put(1751, 1091, "I", size=SUB)
put(1770, 1074, "(Sv)")

for y in [306, 808, 1314]:
    fig.text(91 / W, 1 - y / H, "DEPTH  (m)", fontsize=28, rotation=90, ha="center", va="center")
for x in [491, 1133, 1775]:
    fig.text(x / W, 1 - 1592 / H, "LATITUDE (\u00b0N)", fontsize=28.3, ha="center", va="center")

fig.savefig("out.png", dpi=100)
